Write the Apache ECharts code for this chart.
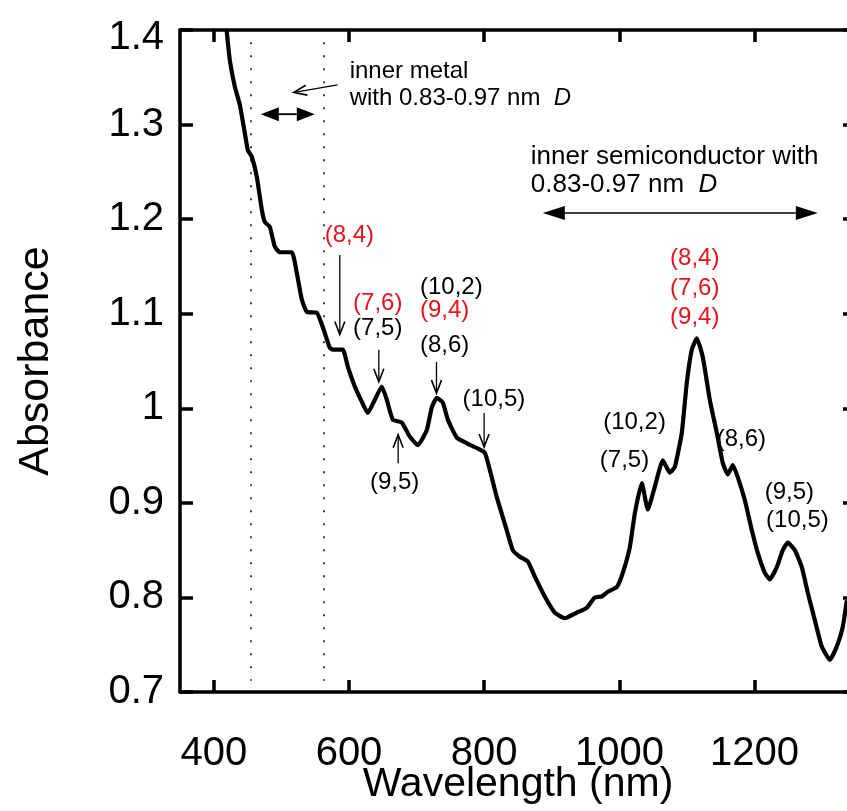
<!DOCTYPE html>
<html>
<head>
<meta charset="utf-8">
<script src="https://cdn.jsdelivr.net/npm/echarts@6/dist/echarts.min.js"></script>
<style>
html,body{margin:0;padding:0;background:#fff;}
#chart{width:847px;height:811px;}
</style>
</head>
<body>
<div id="chart"></div>
<script>
// ---- data ----
const wavelength = [418.8,423.7,431.1,438.5,445.9,450.3,456.2,463.6,471.0,475.4,482.8,490.2,497.6,515.4,522.8,530.2,537.6,552.4,561.2,571.6,576.0,590.8,598.2,608.6,618.9,627.8,638.2,648.5,655.9,664.8,678.1,689.9,701.8,715.1,722.5,729.9,738.8,746.2,759.5,774.3,789.1,800.9,808.3,818.6,833.4,842.3,852.7,864.5,874.9,889.6,904.4,919.2,937.0,951.8,963.6,974.0,982.9,996.2,1005.0,1015.4,1022.8,1033.1,1042.0,1052.4,1064.2,1074.6,1082.0,1092.3,1099.7,1107.1,1114.5,1123.4,1133.7,1144.1,1153.0,1160.4,1167.8,1175.2,1185.5,1195.9,1204.7,1215.1,1222.5,1232.9,1241.7,1249.1,1259.5,1269.8,1278.7,1289.1,1299.4,1311.3,1321.6,1330.5,1336.4];
const absorbance = [1.401,1.368,1.340,1.321,1.291,1.273,1.266,1.245,1.210,1.197,1.192,1.171,1.165,1.165,1.143,1.115,1.102,1.101,1.086,1.064,1.062,1.062,1.044,1.023,1.007,0.995,1.009,1.023,1.009,0.988,0.985,0.970,0.961,0.977,1.001,1.011,1.006,0.988,0.969,0.963,0.958,0.953,0.935,0.906,0.871,0.850,0.843,0.838,0.822,0.801,0.784,0.778,0.784,0.789,0.800,0.801,0.806,0.811,0.826,0.853,0.889,0.921,0.893,0.917,0.945,0.932,0.938,0.974,1.027,1.062,1.074,1.054,1.009,0.974,0.942,0.930,0.940,0.927,0.903,0.871,0.847,0.826,0.819,0.832,0.850,0.858,0.850,0.832,0.805,0.776,0.748,0.734,0.748,0.769,0.797];
const xTicks = [400, 600, 800, 1000, 1200];
const yTicks = [0.7, 0.8, 0.9, 1.0, 1.1, 1.2, 1.3, 1.4];
const guideLines = [455, 562];

// annotation labels (left edge x, centre y, in data units)
const labelTexts = ['(8,4)','(7,6)','(7,5)','(10,2)','(9,4)','(8,6)','(10,5)','(9,5)','(8,4)','(7,6)','(9,4)','(10,2)','(7,5)','(8,6)','(9,5)','(10,5)'];
const labelX = [564,606,606,705,705,705,768,631,1075,1075,1075,976,971,1144,1215,1217];
const labelY = [1.183,1.111,1.085,1.128,1.104,1.067,1.009,0.922,1.159,1.127,1.096,0.985,0.945,0.967,0.911,0.882];
const labelRed = [1,1,0,0,1,0,0,0,1,1,1,0,0,0,0,0];

const noteTexts = ['inner metal','with 0.83-0.97 nm  {i|D}','inner semiconductor with','0.83-0.97 nm  {i|D}'];
const noteX = [601,601,869,869];
const noteY = [1.356,1.328,1.266,1.236];
const noteSize = [24,24,26,26];

// arrows: from -> to (data units)
const arrowX1 = [583,469.5,886.7,586.4,644.1,729.4,799.9,672.7];
const arrowY1 = [1.342,1.311,1.2066,1.162,1.062,1.049,0.995,0.942];
const arrowX2 = [518.3,549.4,1293.5,586.4,644.1,729.4,799.9,672.7];
const arrowY2 = [1.334,1.311,1.2066,1.078,1.028,1.016,0.959,0.972];
const arrowKind = ['open','dblThick','dbl','open','open','open','open','open'];

// ---- chart ----
const FONT = '"Liberation Sans", Arial, sans-serif';
const chart = echarts.init(document.getElementById('chart'), null, {renderer:'canvas'});

function arrowGroup(p1, p2, kind) {
  const dx = p2[0]-p1[0], dy = p2[1]-p1[1];
  const len = Math.hypot(dx, dy);
  const ux = dx/len, uy = dy/len, nx = -uy, ny = ux;
  const children = [];
  if (kind === 'open') {
    const hl = 13, hw = 5;
    children.push({type:'line', shape:{x1:p1[0],y1:p1[1],x2:p2[0]-ux*2,y2:p2[1]-uy*2}, style:{stroke:'#000', lineWidth:1.3}});
    children.push({type:'polyline', shape:{points:[[p2[0]-ux*hl+nx*hw, p2[1]-uy*hl+ny*hw],[p2[0],p2[1]],[p2[0]-ux*hl-nx*hw, p2[1]-uy*hl-ny*hw]]}, style:{stroke:'#000', lineWidth:1.6, fill:null}});
  } else {
    const thick = kind === 'dblThick';
    const hl = thick ? 18 : 22, hw = 7;
    children.push({type:'line', shape:{x1:p1[0]+ux*hl,y1:p1[1]+uy*hl,x2:p2[0]-ux*hl,y2:p2[1]-uy*hl}, style:{stroke:'#000', lineWidth: thick ? 1.8 : 1.5}});
    const head = (tip, sx, sy) => ({type:'polygon', shape:{points:[[tip[0],tip[1]],[tip[0]-sx*hl+nx*hw, tip[1]-sy*hl+ny*hw],[tip[0]-sx*hl-nx*hw, tip[1]-sy*hl-ny*hw]]}, style:{fill:'#000'}});
    children.push(head(p2, ux, uy));
    children.push(head(p1, -ux, -uy));
  }
  return {type:'group', children};
}

const axisLineStyle = {color:'#000', width:3.5};
const option = {
  animation: false,
  backgroundColor: '#fff',
  grid: {left:180, top:30, right:-9, bottom:119, containLabel:false, outerBoundsMode:'none'},
  xAxis: [
    {type:'value', position:'bottom', min:350, max:1350,
     axisLine:{show:true, onZero:false, lineStyle:axisLineStyle},
     axisTick:{show:true, inside:true, length:12, lineStyle:{color:'#000', width:3.5}, customValues:xTicks},
     axisLabel:{customValues:xTicks, fontSize:40, color:'#000', margin:42, fontFamily:FONT,
       formatter: v => String(v)},
     splitLine:{show:false},
     name:'Wavelength (nm)', nameLocation:'middle', nameGap:72, nameMoveOverlap:false,
     nameTextStyle:{fontSize:41, color:'#000', fontFamily:FONT}},
    {type:'value', position:'top', min:350, max:1350,
     axisLine:{show:true, onZero:false, lineStyle:axisLineStyle},
     axisTick:{show:true, inside:true, length:12, lineStyle:{color:'#000', width:3.5}, customValues:xTicks},
     axisLabel:{show:false}, splitLine:{show:false}}
  ],
  yAxis: [
    {type:'value', position:'left', min:0.7, max:1.4, interval:0.1,
     axisLine:{show:true, onZero:false, lineStyle:axisLineStyle},
     axisTick:{show:true, inside:true, length:13, lineStyle:{color:'#000', width:3.5}, customValues:yTicks},
     axisLabel:{customValues:yTicks, fontSize:40, color:'#000', margin:16, fontFamily:FONT,
       formatter: v => { const s = String(+(+v).toFixed(1)); return (+v) > 1.35 ? '{t|' + s + '}' : s; },
       rich:{t:{fontSize:40, color:'#000', fontFamily:FONT, padding:[16,0,0,0]}}},
     splitLine:{show:false},
     name:'Absorbance', nameLocation:'middle', nameGap:122, nameRotate:90, nameMoveOverlap:false,
     nameTextStyle:{fontSize:43, color:'#000', fontFamily:FONT}},
    {type:'value', position:'right', min:0.7, max:1.4, interval:0.1,
     axisLine:{show:true, onZero:false, lineStyle:axisLineStyle},
     axisTick:{show:true, inside:true, length:13, lineStyle:{color:'#000', width:3.5}, customValues:yTicks},
     axisLabel:{show:false}, splitLine:{show:false}}
  ],
  series: [
    {type:'line', xAxisIndex:0, yAxisIndex:0, data: wavelength.map((w,i)=>[w, absorbance[i]]),
     showSymbol:false, symbol:'none', smooth:0.15,
     lineStyle:{color:'#000', width:4.2}, z:5,
     markLine:{silent:true, symbol:['none','none'], label:{show:false},
       lineStyle:{color:'#000', type:[2,11], width:1.5},
       data: guideLines.map(g => [{coord:[g,1.387]},{coord:[g,0.712]}])}},
    {type:'custom', xAxisIndex:0, yAxisIndex:0, z:6, clip:false,
     data: arrowX1.map((x,i)=>[x, arrowY1[i], arrowX2[i], arrowY2[i], i]),
     renderItem: (params, api) => {
       const i = api.value(4);
       const p1 = api.coord([api.value(0), api.value(1)]);
       const p2 = api.coord([api.value(2), api.value(3)]);
       return arrowGroup(p1, p2, arrowKind[i]);
     }},
    {type:'custom', xAxisIndex:0, yAxisIndex:0, z:7, clip:false,
     data: labelX.map((x,i)=>[x, labelY[i], i]),
     renderItem: (params, api) => {
       const i = api.value(2);
       const p = api.coord([api.value(0), api.value(1)]);
       return {type:'text', x:p[0], y:p[1], style:{text:labelTexts[i], fill: labelRed[i] ? '#e5141b' : '#000',
         font:'24px ' + FONT, textAlign:'left', textVerticalAlign:'middle'}};
     }},
    {type:'custom', xAxisIndex:0, yAxisIndex:0, z:7, clip:false,
     data: noteX.map((x,i)=>[x, noteY[i], i]),
     renderItem: (params, api) => {
       const i = api.value(2);
       const p = api.coord([api.value(0), api.value(1)]);
       return {type:'text', x:p[0], y:p[1], style:{text:noteTexts[i], fill:'#000',
         fontSize:noteSize[i], fontFamily:FONT, align:'left', verticalAlign:'middle',
         rich:{i:{fontStyle:'italic', fontSize:noteSize[i], fontFamily:FONT, fill:'#000'}}}};
     }}
  ]
};
chart.setOption(option);
</script>
</body>
</html>
